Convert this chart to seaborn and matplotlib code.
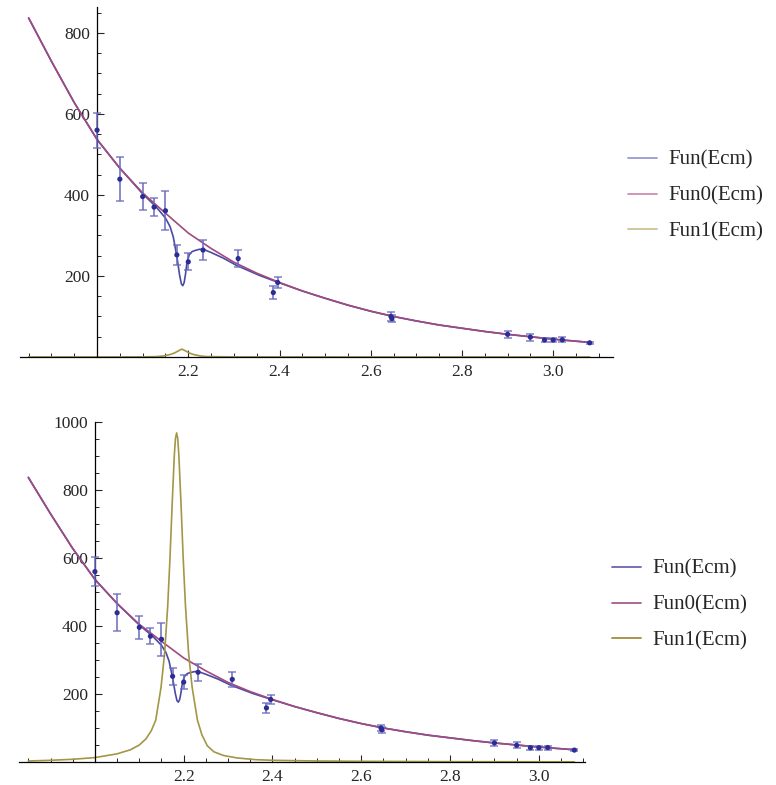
import matplotlib
matplotlib.use("Agg")
import matplotlib.pyplot as plt
from matplotlib.lines import Line2D
from matplotlib.ticker import FixedLocator
import pandas as pd
import seaborn as sns

# measured points: Ecm, value, error
ecm = [2.0, 2.05, 2.1, 2.125, 2.15, 2.175, 2.2, 2.2324, 2.3094, 2.3864, 2.396,
       2.6444, 2.6464, 2.9, 2.95, 2.981, 3.0, 3.02, 3.08]
val = [560, 439, 396, 370, 361, 252, 235, 264, 243, 159, 184,
       100, 95, 56, 49, 42, 42, 42.5, 35]
err = [43, 54, 34, 23, 48, 25, 21, 25, 22, 16, 13,
       10, 9, 9, 9, 6, 6, 6, 3]

# Fun0(Ecm)
fun0_x = [1.85, 1.90, 1.95, 2.00, 2.05, 2.10, 2.15, 2.20, 2.25, 2.30, 2.35, 2.40,
          2.45, 2.50, 2.55, 2.60, 2.65, 2.70, 2.75, 2.80, 2.85, 2.90, 2.95, 3.00,
          3.05, 3.08]
fun0_y = [837, 730, 628, 537, 466, 405, 355, 306, 268, 234, 207, 184,
          163, 145, 128, 113, 100, 89, 79, 71, 63, 56, 50, 44, 39, 36]

# Fun(Ecm) with the dip near 2.19
fun_x = [1.85, 1.90, 1.95, 2.00, 2.05, 2.10, 2.13, 2.15, 2.16, 2.167, 2.175, 2.181,
         2.185, 2.188, 2.191, 2.194, 2.197, 2.202, 2.208, 2.215, 2.225, 2.235, 2.25,
         2.277, 2.306, 2.357, 2.40, 2.45, 2.50, 2.55, 2.60, 2.65, 2.70, 2.75, 2.80,
         2.85, 2.90, 2.95, 3.00, 3.05, 3.08]
fun_y = [837, 730, 628, 537, 466, 403, 370, 343, 322, 297, 248, 202,
         180, 176, 184, 205, 232, 252, 260, 263, 266, 265, 258,
         244, 226, 201, 183, 163, 145, 128, 113, 100, 89, 79, 71,
         63, 56, 50, 44, 39, 36]

# Fun1(Ecm), top panel (small bump)
fun1a_x = [1.85, 2.0, 2.10, 2.13, 2.145, 2.16, 2.17, 2.178, 2.186, 2.194, 2.202,
           2.212, 2.227, 2.24, 2.30, 2.6, 3.08]
fun1a_y = [0.1, 0.1, 0.3, 1, 2.5, 6, 10, 15, 19.5, 15, 10,
           6, 2.5, 1, 0.3, 0.1, 0.1]

# Fun1(Ecm), bottom panel (big peak)
fun1b_x = [1.85, 1.90, 1.95, 2.00, 2.05, 2.08, 2.10, 2.115, 2.127, 2.137, 2.149,
           2.157, 2.164, 2.169, 2.174, 2.179, 2.1815, 2.184, 2.1865, 2.189, 2.194,
           2.199, 2.204, 2.211, 2.219, 2.231, 2.241, 2.253, 2.268, 2.29, 2.32,
           2.36, 2.40, 2.50, 2.60, 2.80, 3.08]
fun1b_y = [3, 5, 8, 13, 24, 36, 50, 68, 92, 123, 220,
           320, 459, 596, 758, 905, 952, 968, 952, 905, 758,
           596, 459, 320, 220, 123, 80, 48, 30, 19, 12,
           7, 5, 3, 2, 1, 0.5]

C_FUN = "#4a4aa6"
C_FUN0 = "#a04a80"
C_FUN1 = "#a39645"
C_PT = "#2c2c96"
C_ERR = "#6a6abf"

sns.set_style("ticks")
plt.rcParams["font.family"] = ["Liberation Serif", "DejaVu Serif"]

fig = plt.figure(figsize=(7.76, 7.85), dpi=100)
ax1 = fig.add_axes([19.5 / 776, (785 - 357) / 785, 593 / 776, 350 / 785])
ax2 = fig.add_axes([19 / 776, 23 / 785, 566 / 776, 340 / 785])

pts = pd.DataFrame({"Ecm": ecm, "val": val})


def draw(ax, f1x, f1y, xlim, ylim, ymajor):
    sns.lineplot(x=fun_x, y=fun_y, ax=ax, color=C_FUN, lw=1.2, sort=False, estimator=None)
    sns.lineplot(x=fun0_x, y=fun0_y, ax=ax, color=C_FUN0, lw=1.2, sort=False, estimator=None)
    sns.lineplot(x=f1x, y=f1y, ax=ax, color=C_FUN1, lw=1.2, sort=False, estimator=None)
    ax.errorbar(ecm, val, yerr=err, fmt="none", ecolor=C_ERR, elinewidth=1.3,
                capsize=3, capthick=1.1, alpha=0.85, zorder=4)
    sns.scatterplot(data=pts, x="Ecm", y="val", ax=ax, color=C_PT, s=14,
                    edgecolor="none", zorder=5)
    ax.set_xlim(*xlim)
    ax.set_ylim(*ylim)
    ax.spines["top"].set_visible(False)
    ax.spines["right"].set_visible(False)
    ax.spines["left"].set_position(("data", 2.0))
    ax.spines["bottom"].set_position(("data", 0))
    for s in ("left", "bottom"):
        ax.spines[s].set_linewidth(0.9)
        ax.spines[s].set_color("black")
    ax.set_xticks([2.2, 2.4, 2.6, 2.8, 3.0])
    ax.set_xticklabels(["2.2", "2.4", "2.6", "2.8", "3.0"])
    ax.xaxis.set_minor_locator(FixedLocator(
        [1.85, 1.9, 1.95, 2.05, 2.1, 2.15, 2.25, 2.3, 2.35, 2.45, 2.5, 2.55,
         2.65, 2.7, 2.75, 2.85, 2.9, 2.95, 3.05, 3.1]))
    ax.set_yticks(ymajor)
    ax.set_yticklabels([str(v) for v in ymajor])
    ax.yaxis.set_minor_locator(FixedLocator(
        [v for v in range(50, int(ylim[1]) + 1, 50) if v not in ymajor]))
    ax.tick_params(which="major", direction="in", length=5, width=0.8,
                   labelsize=12.5, pad=5)
    ax.tick_params(which="minor", direction="in", length=3, width=0.7)
    ax.set_xlabel("")
    ax.set_ylabel("")
    ax.patch.set_alpha(0)


draw(ax1, fun1a_x, fun1a_y, (1.83, 3.13), (0, 864), [200, 400, 600, 800])
draw(ax2, fun1b_x, fun1b_y, (1.829, 3.104), (0, 1000), [200, 400, 600, 800, 1000])

labels = ["Fun(Ecm)", "Fun0(Ecm)", "Fun1(Ecm)"]
pale = ["#9a9ad2", "#cc8fb5", "#cbc393"]
dark = ["#6a64b4", "#a85a8c", "#a08e3c"]

for ax, cols, x0, yc in [(ax1, pale, 628 / 776, 1 - 196 / 785),
                         (ax2, dark, 612 / 776, 1 - 605 / 785)]:
    handles = [Line2D([], [], color=c, lw=1.3) for c in cols]
    ax.legend(handles, labels, loc="center left", bbox_to_anchor=(x0, yc),
              bbox_transform=fig.transFigure, frameon=False, fontsize=15,
              handlelength=1.4, handletextpad=0.53, labelspacing=0.78,
              borderpad=0, borderaxespad=0)

fig.savefig("out.png", dpi=100)
